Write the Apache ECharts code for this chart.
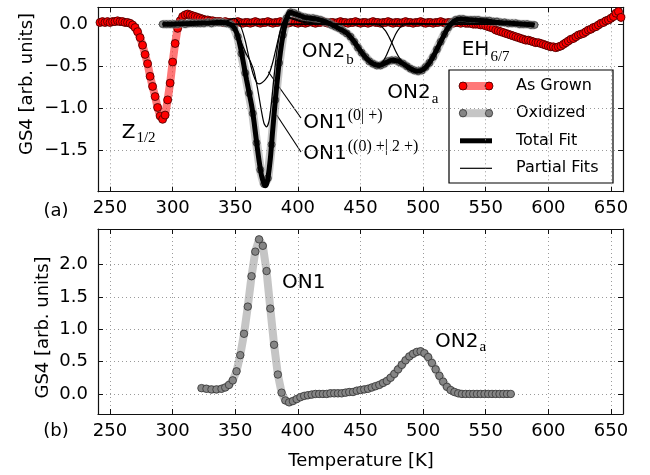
<!DOCTYPE html>
<html>
<head>
<meta charset="utf-8">
<script src="https://cdn.jsdelivr.net/npm/echarts@6/dist/echarts.min.js"></script>
<style>
  html, body { margin: 0; padding: 0; background: #fff; }
  #chart { width: 650px; height: 475px; }
</style>
</head>
<body>
<div id="chart"></div>
<script>
// ---------- data ----------
const xTicks = [250, 300, 350, 400, 450, 500, 550, 600, 650];
const yTicksTop = [-1.5, -1.0, -0.5, 0.0];
const yTicksBottom = [0.0, 0.5, 1.0, 1.5, 2.0];

// (a) as-grown sample, GS4 signal vs temperature
const grownT = [
  240,242,244,246,248,250,252,254,256,258,
  260,262,264,266,268,270,272,274,276,278,
  280,282,284,286,288,290,292,294,296,298,
  300,302,304,306,308,310,312,314,316,318,
  320,322,324,326,328,330,332,334,336,338,
  340,342,344,346,348,350,352,354,356,358,
  360,362,364,366,368,370,372,374,376,378,
  380,382,384,386,388,390,392,394,396,398,
  400,402,404,406,408,410,412,414,416,418,
  420,422,424,426,428,430,432,434,436,438,
  440,442,444,446,448,450,452,454,456,458,
  460,462,464,466,468,470,472,474,476,478,
  480,482,484,486,488,490,492,494,496,498,
  500,502,504,506,508,510,512,514,516,518,
  520,522,524,526,528,530,532,534,536,538,
  540,542,544,546,548,550,552,554,556,558,
  560,562,564,566,568,570,572,574,576,578,
  580,582,584,586,588,590,592,594,596,598,
  600,602,604,606,608,610,612,614,616,618,
  620,622,624,626,628,630,632,634,636,638,
  640,642,644,646,648,650,652,654,656,658,
  660
];
const grownGS4 = [
  0.03,0.02,0.03,0.02,0.03,0.02,0.03,0.03,0.04,0.03,
  0.03,0.02,0.02,0.01,-0.01,-0.04,-0.09,-0.16,-0.25,-0.36,
  -0.47,-0.62,-0.74,-0.86,-0.99,-1.09,-1.13,-1.08,-0.90,-0.70,
  -0.45,-0.23,-0.05,0.04,0.09,0.11,0.12,0.11,0.10,0.09,
  0.08,0.07,0.06,0.05,0.05,0.04,0.04,0.03,0.03,0.03,
  0.02,0.03,0.02,0.02,0.01,0.02,0.03,0.02,0.01,0.02,
  0.02,0.01,0.02,0.03,0.02,0.01,0.02,0.02,0.03,0.02,
  0.01,0.02,0.02,0.03,0.02,0.02,0.01,0.02,0.03,0.02,
  0.01,0.02,0.02,0.01,0.02,0.03,0.02,0.01,0.02,0.02,
  0.03,0.02,0.01,0.02,0.02,0.01,0.02,0.03,0.02,0.02,
  0.01,0.02,0.02,0.03,0.02,0.01,0.02,0.02,0.01,0.02,
  0.03,0.02,0.02,0.01,0.02,0.02,0.03,0.02,0.01,0.02,
  0.02,0.01,0.02,0.03,0.02,0.02,0.01,0.02,0.02,0.03,
  0.02,0.01,0.02,0.02,0.01,0.02,0.02,0.03,0.02,0.01,
  0.02,0.02,0.01,0.02,0.02,0.01,0.02,0.01,0.01,0.01,
  0.00,0.00,0.00,-0.01,-0.01,-0.02,-0.03,-0.04,-0.05,-0.07,
  -0.08,-0.09,-0.10,-0.11,-0.12,-0.13,-0.14,-0.15,-0.16,-0.17,
  -0.18,-0.19,-0.19,-0.20,-0.21,-0.22,-0.22,-0.23,-0.24,-0.25,
  -0.26,-0.27,-0.27,-0.28,-0.27,-0.26,-0.24,-0.22,-0.20,-0.18,
  -0.17,-0.15,-0.13,-0.12,-0.11,-0.09,-0.07,-0.06,-0.04,-0.03,
  -0.01,0.01,0.02,0.04,0.05,0.07,0.09,0.13,0.15,0.08,
  0.06
];

// (a) oxidized sample
const oxT = [
  292,295,298,301,304,307,310,313,316,319,
  322,325,328,331,334,337,340,343,346,349,
  352,355,358,361,364,367,370,373,376,379,
  382,385,388,391,394,397,400,403,406,409,
  412,415,418,421,424,427,430,433,436,439,
  442,445,448,451,454,457,460,463,466,469,
  472,475,478,481,484,487,490,493,496,499,
  502,505,508,511,514,517,520,523,526,529,
  532,535,538,541,544,547,550,553,556,559,
  562,565,568,571,574,577,580,583,586,589
];
const oxGS4 = [
  0.00,0.00,0.00,0.00,0.00,0.01,0.00,0.01,0.01,0.01,
  0.01,0.01,0.02,0.01,0.02,0.02,0.02,0.01,0.00,-0.04,
  -0.15,-0.35,-0.58,-0.82,-1.06,-1.41,-1.73,-1.90,-1.83,-1.43,
  -0.90,-0.46,-0.13,0.07,0.14,0.13,0.11,0.09,0.08,0.07,
  0.07,0.06,0.05,0.03,0.02,-0.01,-0.03,-0.05,-0.08,-0.11,
  -0.15,-0.21,-0.28,-0.34,-0.39,-0.44,-0.47,-0.49,-0.49,-0.47,
  -0.44,-0.43,-0.43,-0.45,-0.47,-0.50,-0.53,-0.55,-0.56,-0.55,
  -0.51,-0.46,-0.39,-0.30,-0.21,-0.12,-0.04,0.02,0.05,0.06,
  0.06,0.05,0.05,0.05,0.05,0.04,0.04,0.04,0.03,0.03,
  0.02,0.02,0.01,0.01,0.01,0.00,0.00,0.00,-0.01,-0.01
];

// (a) total fit
const fitT = [292,300,310,320,330,335,340,344,348,351,353,355,357,359,361,363,365,367,369,371,373,374,375,376,378,380,382,384,386,388,390,392,394,396,400,405,410,415,420,425,430,435,440,445,450,455,460,465,470,475,480,485,490,495,500,505,510,515,520,525,530,540,550,560,570,580,589];
const fitGS4 = [0.00,0.00,0.005,0.01,0.015,0.02,0.02,0.01,-0.02,-0.10,-0.20,-0.34,-0.50,-0.66,-0.81,-0.96,-1.16,-1.40,-1.62,-1.80,-1.90,-1.92,-1.90,-1.84,-1.60,-1.24,-0.90,-0.60,-0.34,-0.14,0.01,0.11,0.14,0.13,0.11,0.08,0.07,0.06,0.04,0.01,-0.03,-0.07,-0.12,-0.21,-0.32,-0.41,-0.47,-0.49,-0.46,-0.43,-0.44,-0.48,-0.53,-0.56,-0.54,-0.46,-0.33,-0.18,-0.04,0.04,0.06,0.05,0.04,0.02,0.01,0.00,-0.01];

// (a) partial fits
const on1aT = [292,320,335,340,345,349,352,355,358,361,364,367,369,371,374,377,380,383,386,389,392,396,402,410,420,450,500,589];
const on1aGS4 = [0,0,0,0.02,0.05,0.07,0.04,-0.05,-0.20,-0.40,-0.58,-0.69,-0.71,-0.70,-0.66,-0.59,-0.45,-0.26,-0.08,0.04,0.08,0.07,0.04,0.02,0,0,0,0];
const on1bT = [292,320,340,345,350,353,356,359,362,365,368,371,373,375,377,379,381,383,385,387,389,392,396,402,410,420,450,589];
const on1bGS4 = [0,0,0,-0.01,-0.05,-0.14,-0.26,-0.36,-0.44,-0.56,-0.78,-1.04,-1.18,-1.22,-1.15,-0.92,-0.62,-0.35,-0.15,-0.02,0.05,0.07,0.06,0.03,0.01,0,0,0];
const on2bT = [292,400,420,430,435,440,445,450,455,460,464,467,470,473,475,478,481,484,488,495,505,589];
const on2bGS4 = [0,0,0,-0.03,-0.07,-0.12,-0.21,-0.32,-0.41,-0.47,-0.49,-0.46,-0.39,-0.29,-0.22,-0.12,-0.05,-0.01,0.01,0.01,0,0];
const on2aT = [292,450,462,466,470,473,475,478,481,485,490,495,500,505,510,515,520,524,530,540,550,589];
const on2aGS4 = [0,0,0,-0.02,-0.08,-0.16,-0.22,-0.32,-0.40,-0.47,-0.53,-0.56,-0.54,-0.46,-0.33,-0.18,-0.06,0,0.02,0.01,0,0];

// (b) oxidized minus as-grown
const diffT = [
  323,327,331,335,339,342,345,348,351,354,
  357,360,363,366,369,372,375,378,381,384,
  387,390,393,396,399,402,405,408,411,414,
  417,420,423,426,429,432,435,438,441,444,
  447,450,453,456,459,462,465,468,471,474,
  477,480,483,486,489,492,495,498,501,504,
  507,510,513,516,519,522,525,528,531,534,
  537,540,543,546,549,552,555,558,561,564,
  567,570
];
const diffGS4 = [
  0.09,0.08,0.07,0.07,0.08,0.10,0.14,0.21,0.35,0.60,
  0.93,1.35,1.82,2.20,2.39,2.29,1.90,1.32,0.76,0.30,
  0.02,-0.10,-0.13,-0.11,-0.08,-0.05,-0.03,-0.02,-0.01,0.00,
  0.00,0.00,0.00,0.01,0.01,0.01,0.01,0.02,0.03,0.03,
  0.05,0.06,0.07,0.08,0.10,0.12,0.14,0.17,0.20,0.25,
  0.31,0.38,0.45,0.52,0.58,0.62,0.65,0.66,0.63,0.57,
  0.48,0.38,0.28,0.19,0.11,0.06,0.03,0.01,0.00,0.00,
  0.00,0.00,0.00,0.00,0.00,0.00,0.00,0.00,0.00,0.00,
  0.00,0.00
];

const legendNames = ['As Grown', 'Oxidized', 'Total Fit', 'Partial Fits'];

// ---------- helpers ----------
const SANS = "'DejaVu Sans', sans-serif";
const SERIF = "'Liberation Serif', 'DejaVu Serif', serif";
const pairs = (xs, ys) => xs.map((x, i) => [x, ys[i]]);
const fmtY = v => (v < 0 ? '\u2212' : '') + Math.abs(v).toFixed(1);

const measureCtx = document.createElement('canvas').getContext('2d');
function textWidth(txt, size, fam) {
  measureCtx.font = size + 'px ' + fam;
  return measureCtx.measureText(txt).width;
}
// place text by its baseline (canvas 'middle' sits ~0.34em above the baseline)
function txt(str, x, baseline, size, fam, extra) {
  const k = fam === SERIF ? 0.3375 : 0.346;
  return Object.assign({
    type: 'text', x: x, y: baseline - k * size, silent: true,
    style: { text: str, fontSize: size, fontFamily: fam, fill: '#000', align: 'left', verticalAlign: 'middle' }
  }, extra || {});
}
// main text followed by a script (sub or superscript)
function scripted(main, script, x, baseline, scriptBaseline, size, scriptSize) {
  const w = textWidth(main, size, SANS);
  return [
    txt(main, x, baseline, size, SANS),
    txt(script, x + w + 1, scriptBaseline, scriptSize, SERIF)
  ];
}

const XMIN = 240.4, XMAX = 659.6;
const AX = '#111';
function xAxis(grid, position, showLabels) {
  return {
    type: 'value', gridIndex: grid, position: position, min: XMIN, max: XMAX,
    axisLine: { show: true, onZero: false, lineStyle: { color: AX, width: 1.2 } },
    axisTick: { show: true, inside: true, length: 5, customValues: xTicks, lineStyle: { color: AX, width: 1 } },
    axisLabel: { show: showLabels, customValues: xTicks, margin: 8, fontSize: 18, fontFamily: SANS, color: '#000' },
    splitLine: { show: showLabels, lineStyle: { color: '#9a9a9a', width: 1, type: [1, 3] } }
  };
}
function yAxis(grid, position, min, max, ticks, showLabels) {
  return {
    type: 'value', gridIndex: grid, position: position, min: min, max: max,
    axisLine: { show: true, onZero: false, lineStyle: { color: AX, width: 1.2 } },
    axisTick: { show: true, inside: true, length: 5, customValues: ticks, lineStyle: { color: AX, width: 1 } },
    axisLabel: { show: showLabels, customValues: ticks, margin: 10, fontSize: 18, fontFamily: SANS, color: '#000', formatter: fmtY },
    splitLine: { show: showLabels, lineStyle: { color: '#9a9a9a', width: 1, type: [1, 3] } }
  };
}

// ---------- chart ----------
const chart = echarts.init(document.getElementById('chart'), null, { renderer: 'canvas' });

const grownColor = '#ff0000';
const grownBand = 'rgba(255, 30, 30, 0.6)';
const oxFill = '#858585';
const oxBand = 'rgba(150, 150, 150, 0.55)';

const series = [
  {
    name: legendNames[0], type: 'line', xAxisIndex: 0, yAxisIndex: 0,
    data: pairs(grownT, grownGS4),
    symbol: 'circle', symbolSize: 8, showAllSymbol: true,
    lineStyle: { color: grownBand, width: 8 },
    itemStyle: { color: grownColor, borderColor: '#3a0000', borderWidth: 0.8 },
    silent: true, z: 2
  },
  {
    name: legendNames[1], type: 'line', xAxisIndex: 0, yAxisIndex: 0,
    data: pairs(oxT, oxGS4),
    symbol: 'circle', symbolSize: 7, showAllSymbol: true,
    lineStyle: { color: oxBand, width: 9 },
    itemStyle: { color: oxFill, borderColor: '#333', borderWidth: 0.8 },
    silent: true, z: 3
  },
  {
    name: legendNames[2], type: 'line', xAxisIndex: 0, yAxisIndex: 0,
    data: pairs(fitT, fitGS4), symbol: 'none', smooth: 0.25,
    lineStyle: { color: '#000', width: 5 }, silent: true, z: 4
  }
];
[[on1aT, on1aGS4], [on1bT, on1bGS4], [on2bT, on2bGS4], [on2aT, on2aGS4]].forEach(([t, v]) => {
  series.push({
    name: legendNames[3], type: 'line', xAxisIndex: 0, yAxisIndex: 0,
    data: pairs(t, v), symbol: 'none', smooth: 0.25,
    lineStyle: { color: '#000', width: 1.2 }, silent: true, z: 5
  });
});
series.push({
  name: 'difference', type: 'line', xAxisIndex: 2, yAxisIndex: 2,
  data: pairs(diffT, diffGS4),
  symbol: 'circle', symbolSize: 7.5, showAllSymbol: true,
  lineStyle: { color: oxBand, width: 8 },
  itemStyle: { color: oxFill, borderColor: '#333', borderWidth: 0.8 },
  silent: true, z: 3
});

// legend box drawn as a graphic group
const LX = 449, LY = 70, LW = 164, LH = 113;
const rows = [86, 113.2, 140.8, 168.3];
const legendEls = [
  { type: 'rect', shape: { x: LX, y: LY, width: LW, height: LH }, style: { fill: '#fff', stroke: '#000', lineWidth: 1.2 }, silent: true },
  { type: 'line', shape: { x1: 460, y1: rows[0], x2: 492, y2: rows[0] }, style: { stroke: grownBand, lineWidth: 8 }, silent: true },
  { type: 'circle', shape: { cx: 463, cy: rows[0], r: 4 }, style: { fill: grownColor, stroke: '#3a0000', lineWidth: 0.8 }, silent: true },
  { type: 'circle', shape: { cx: 489, cy: rows[0], r: 4 }, style: { fill: grownColor, stroke: '#3a0000', lineWidth: 0.8 }, silent: true },
  { type: 'line', shape: { x1: 460, y1: rows[1], x2: 492, y2: rows[1] }, style: { stroke: oxBand, lineWidth: 8 }, silent: true },
  { type: 'circle', shape: { cx: 463, cy: rows[1], r: 3.7 }, style: { fill: oxFill, stroke: '#333', lineWidth: 0.8 }, silent: true },
  { type: 'circle', shape: { cx: 489, cy: rows[1], r: 3.7 }, style: { fill: oxFill, stroke: '#333', lineWidth: 0.8 }, silent: true },
  { type: 'line', shape: { x1: 460, y1: rows[2], x2: 492, y2: rows[2] }, style: { stroke: '#000', lineWidth: 5 }, silent: true },
  { type: 'line', shape: { x1: 460, y1: rows[3], x2: 492, y2: rows[3] }, style: { stroke: '#000', lineWidth: 1.2 }, silent: true }
];
legendNames.forEach((n, i) => {
  legendEls.push({
    type: 'text', x: 516, y: rows[i], silent: true,
    style: { text: n, fontSize: 16, fontFamily: SANS, fill: '#000', align: 'left', verticalAlign: 'middle' }
  });
});

const annotations = [].concat(
  scripted('Z', '1/2', 121.7, 140, 143.5, 20, 15),
  scripted('ON2', 'b', 301.7, 58.3, 65, 20, 15),
  scripted('ON2', 'a', 387.3, 99.3, 104.5, 20, 15),
  scripted('EH', '6/7', 461.7, 56.7, 62.5, 20, 15),
  scripted('ON1', '(0| +)', 303.3, 130, 121.5, 20, 16),
  scripted('ON1', '((0) +| 2 +)', 303.3, 160.5, 152, 20, 16),
  [txt('ON1', 282, 290, 20, SANS)],
  scripted('ON2', 'a', 435, 348.3, 352.5, 20, 15),
  [
    { type: 'line', shape: { x1: 268.3, y1: 71.7, x2: 301, y2: 118 }, style: { stroke: '#000', lineWidth: 1.1 }, silent: true },
    { type: 'line', shape: { x1: 276.7, y1: 115, x2: 301, y2: 152 }, style: { stroke: '#000', lineWidth: 1.1 }, silent: true },
    { type: 'text', x: 27, y: 84, rotation: Math.PI / 2, silent: true,
      style: { text: 'GS4 [arb. units]', fontSize: 18, fontFamily: SANS, fill: '#000', align: 'center', verticalAlign: 'middle' } },
    { type: 'text', x: 43, y: 327.5, rotation: Math.PI / 2, silent: true,
      style: { text: 'GS4 [arb. units]', fontSize: 18, fontFamily: SANS, fill: '#000', align: 'center', verticalAlign: 'middle' } },
    { type: 'text', x: 56, y: 211.5, silent: true,
      style: { text: '(a)', fontSize: 18, fontFamily: SANS, fill: '#000', align: 'center', verticalAlign: 'middle' } },
    { type: 'text', x: 56, y: 431, silent: true,
      style: { text: '(b)', fontSize: 18, fontFamily: SANS, fill: '#000', align: 'center', verticalAlign: 'middle' } },
    { type: 'text', x: 361, y: 461.5, silent: true,
      style: { text: 'Temperature [K]', fontSize: 18, fontFamily: SANS, fill: '#000', align: 'center', verticalAlign: 'middle' } }
  ]
);

chart.setOption({
  animation: false,
  backgroundColor: '#fff',
  textStyle: { fontFamily: SANS },
  grid: [
    { left: 98, top: 7.3, width: 525, height: 184.4 },
    { left: 98, top: 229, width: 525, height: 185 }
  ],
  xAxis: [
    xAxis(0, 'bottom', true), xAxis(0, 'top', false),
    xAxis(1, 'bottom', true), xAxis(1, 'top', false)
  ],
  yAxis: [
    yAxis(0, 'left', -1.99, 0.2, yTicksTop, true), yAxis(0, 'right', -1.99, 0.2, yTicksTop, false),
    yAxis(1, 'left', -0.31, 2.55, yTicksBottom, true), yAxis(1, 'right', -0.31, 2.55, yTicksBottom, false)
  ],
  series: series,
  graphic: { elements: legendEls.concat(annotations) }
});
</script>
</body>
</html>
